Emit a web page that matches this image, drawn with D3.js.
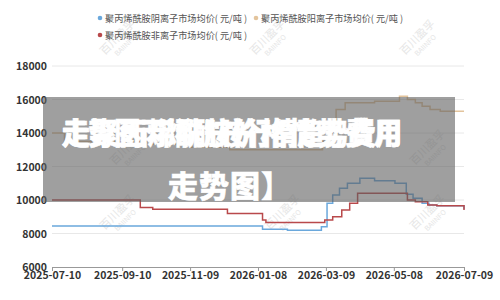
<!DOCTYPE html>
<html>
<head>
<meta charset="utf-8">
<script src="https://cdn.jsdelivr.net/npm/d3@7"></script>
<style>
  body { margin: 0; background: #fff; }
  svg { font-family: "Noto Sans CJK SC", "Noto Sans", sans-serif; }
</style>
</head>
<body>
<svg width="500" height="300"></svg>
<script>
// series names
const seriesNames = ["聚丙烯酰胺阴离子市场均价( 元/吨 )", "聚丙烯酰胺阳离子市场均价( 元/吨 )", "聚丙烯酰胺非离子市场均价( 元/吨 )"]
const seriesColors = ["#6aa8dc", "#e3c49c", "#b9494b"]

// change points [date, price]
const anionic = [
  ["2025-07-10", 8450], ["2026-01-12", 8250], ["2026-02-03", 8200], ["2026-03-05", 8400],
  ["2026-03-10", 9800], ["2026-03-15", 10300], ["2026-03-21", 10700], ["2026-03-28", 11000],
  ["2026-04-08", 11300], ["2026-04-21", 11150], ["2026-05-09", 11000], ["2026-05-19", 10350],
  ["2026-05-25", 10100], ["2026-06-02", 9800], ["2026-06-08", 9700], ["2026-06-15", 9650],
  ["2026-07-08", 9650], ["2026-07-09", 9450]
]
const cationic = [
  ["2025-07-10", 14000], ["2025-07-21", 13500], ["2025-10-05", 13350], ["2025-11-09", 13150],
  ["2025-12-14", 13000], ["2026-03-06", 13500], ["2026-03-11", 14500], ["2026-03-18", 15400],
  ["2026-03-26", 15800], ["2026-04-21", 15900], ["2026-05-13", 16200], ["2026-05-20", 16000],
  ["2026-05-27", 15800], ["2026-06-02", 15600], ["2026-06-09", 15400], ["2026-06-18", 15300],
  ["2026-07-09", 15300]
]
const nonionic = [
  ["2025-07-10", 10000], ["2025-09-26", 9550], ["2025-10-07", 9450], ["2025-12-12", 9200],
  ["2026-01-12", 8800], ["2026-01-15", 8650], ["2026-03-08", 8800], ["2026-03-15", 9000],
  ["2026-03-23", 9400], ["2026-03-30", 9800], ["2026-04-06", 10400], ["2026-05-20", 10000],
  ["2026-05-27", 9900], ["2026-06-07", 9700], ["2026-06-15", 9650], ["2026-07-08", 9650],
  ["2026-07-09", 9400]
]
const xTickLabels = ["2025-07-10", "2025-09-10", "2025-11-09", "2026-01-08", "2026-03-09", "2026-05-08", "2026-07-09"]
const yTickValues = [6000, 8000, 10000, 12000, 14000, 16000, 18000]

// overlay text lines (two garbled titles printed on top of each other)
const overlayLineA = "走聚丙烯酰胺价格情势费用"
const overlayLineB = "走势图丙烯酰胺行情趋势费用"
const overlayLine2 = "走势图】"

const parse = d3.timeParse("%Y-%m-%d")
const svg = d3.select("svg")
const margin = {left: 52, right: 36, top: 66, bottom: 33}
const width = 500, height = 300

const x = d3.scaleTime()
  .domain([parse("2025-07-10"), parse("2026-07-09")])
  .range([margin.left, width - margin.right])
const y = d3.scaleLinear()
  .domain([6000, 18000])
  .range([height - margin.bottom, margin.top])

// watermarks
const marks = [[120, 40], [270, 40], [420, 40], [130, 150], [430, 150], [120, 215], [285, 215], [430, 215]]
marks.forEach(m => {
  const g = svg.append("g").attr("transform", `translate(${m[0]},${m[1]}) rotate(-45)`)
    .attr("fill", "#e6e6e6")
  g.append("text").attr("text-anchor", "middle").attr("font-size", 11).text("百川盈孚")
  g.append("text").attr("text-anchor", "middle").attr("y", 10).attr("font-size", 7).text("BAIINFO")
})

// grid
svg.append("g")
  .selectAll("line")
  .data(yTickValues.slice(1))
  .enter().append("line")
  .attr("x1", margin.left).attr("x2", width - margin.right)
  .attr("y1", d => y(d)).attr("y2", d => y(d))
  .attr("stroke", "#e8e8e8")

// y axis labels
svg.append("g")
  .selectAll("text")
  .data(yTickValues)
  .enter().append("text")
  .attr("x", margin.left - 5)
  .attr("y", d => y(d) + 4)
  .attr("text-anchor", "end")
  .attr("font-size", 10.5)
  .attr("font-weight", 600)
  .attr("fill", "#333")
  .text(d => d)

// x axis
const xAxis = d3.axisBottom(x)
  .tickValues(xTickLabels.map(parse))
  .tickFormat(d3.timeFormat("%Y-%m-%d"))
  .tickSize(4)
  .tickSizeOuter(0)
const xg = svg.append("g")
  .attr("transform", `translate(0,${height - margin.bottom})`)
  .call(xAxis)
xg.select(".domain").attr("stroke", "#999")
xg.selectAll(".tick line").attr("stroke", "#999")
xg.selectAll("text")
  .attr("font-size", 10.5)
  .attr("font-weight", 600)
  .attr("fill", "#333")
  .attr("font-family", "\"Noto Sans CJK SC\", sans-serif")
  .attr("dy", "0.45em")

// lines
const line = d3.line()
  .x(d => x(parse(d[0])))
  .y(d => y(d[1]))
  .curve(d3.curveStepAfter)
const allSeries = [anionic, cationic, nonionic]
svg.append("g")
  .selectAll("path")
  .data(allSeries)
  .enter().append("path")
  .attr("d", line)
  .attr("fill", "none")
  .attr("stroke", (d, i) => seriesColors[i])
  .attr("stroke-width", 1.5)

// legend
const legendPos = [[100, 18], [256, 18], [100, 35]]
const legend = svg.append("g")
  .selectAll("g")
  .data(seriesNames)
  .enter().append("g")
  .attr("transform", (d, i) => `translate(${legendPos[i][0]},${legendPos[i][1]})`)
legend.append("circle").attr("r", 2.3).attr("fill", (d, i) => seriesColors[i])
legend.append("text")
  .attr("x", 5).attr("y", 3.5)
  .attr("font-size", 9.5)
  .attr("fill", "#555")
  .attr("textLength", 142)
  .attr("lengthAdjust", "spacingAndGlyphs")
  .text(d => d)

// gray overlay with title text
svg.append("rect")
  .attr("x", 43).attr("y", 97)
  .attr("width", 412).attr("height", 105)
  .attr("fill", "rgba(95,95,95,0.6)")

const ov = svg.append("g")
  .attr("fill", "#fff")
  .attr("stroke", "#fff")
  .attr("stroke-width", 0.5)
  .attr("font-weight", 900)
  .attr("font-size", 30)
ov.append("text").attr("x", 62).attr("y", 144)
  .attr("textLength", 340).attr("lengthAdjust", "spacingAndGlyphs").text(overlayLineA)
ov.append("text").attr("x", 62).attr("y", 144)
  .attr("textLength", 340).attr("lengthAdjust", "spacingAndGlyphs").text(overlayLineB)
ov.append("text").attr("x", 230).attr("y", 197)
  .attr("text-anchor", "middle").attr("letter-spacing", 1).text(overlayLine2)
</script>
</body>
</html>
